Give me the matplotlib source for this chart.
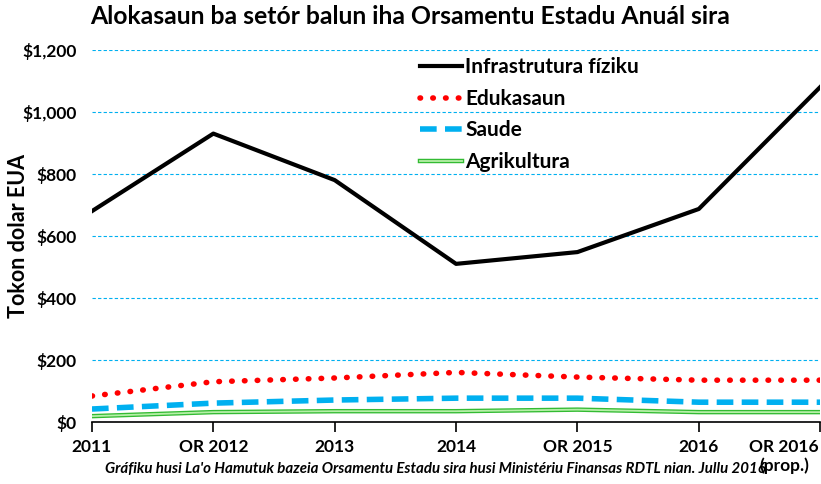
import matplotlib.pyplot as plt
import matplotlib.patheffects as pe
import matplotlib.transforms as mtransforms
import numpy as np

years = ['2011', 'OR 2012', '2013', '2014', 'OR 2015', '2016', 'OR 2016\n(prop.)']
infrastrutura = [680, 930, 780, 510, 548, 687, 1080]
edukasaun = [84, 130, 142, 160, 145, 135, 135]
saude = [42, 61, 71, 77, 77, 64, 64]
agrikultura = [19, 32, 35, 35, 40, 32, 32]

plt.rcParams['font.family'] = ['Lato', 'DejaVu Sans']
plt.rcParams['font.weight'] = 'bold'

fig = plt.figure(figsize=(8.21, 4.84), dpi=100)
ax = fig.add_axes([0.112, 0.128, 0.887, 0.769])
x = np.arange(len(years))

ax.plot(x, infrastrutura, color='black', lw=3, label='Infrastrutura fíziku')
ax.plot(x, edukasaun, color='#ff0000', lw=4, linestyle=(0, (0.1, 2.2)),
        dash_capstyle='round', label='Edukasaun')
ax.plot(x, saude, color='#00b0f0', lw=4, linestyle=(0, (3, 1.5)), label='Saude')
ax.plot(x, agrikultura, color='#b6efa8', lw=1.3, label='Agrikultura',
        path_effects=[pe.Stroke(linewidth=3.2, foreground='#33bb33'), pe.Normal()])

ax.set_xlim(0, len(years) - 1)
ax.set_ylim(0, 1200)
ax.set_yticks(range(0, 1201, 200))
ax.set_yticklabels(['$0', '$200', '$400', '$600', '$800', '$1,000', '$1,200'])
ax.set_xticks(x)
ax.set_xticklabels(years)
ax.grid(axis='y', color='#00b0f0', linestyle=(0, (3, 2)), lw=0.8)
ax.set_axisbelow(True)
for s in ['top', 'right', 'left']:
    ax.spines[s].set_visible(False)
ax.spines['bottom'].set_linewidth(1.2)
ax.tick_params(axis='y', length=0, labelsize=12.5, pad=11)
ax.tick_params(axis='x', direction='out', length=7, width=1.2, labelsize=12.5, pad=5)
ax.set_ylabel('Tokon dolar EUA', fontsize=15.5, fontweight='bold')
ax.yaxis.set_label_coords(-0.086, 0.5)

# last label sits against the right edge
last = ax.get_xticklabels()[-1]
last.set_transform(last.get_transform() + mtransforms.ScaledTranslation(-0.36, 0, fig.dpi_scale_trans))

ax.legend(loc='upper left', bbox_to_anchor=(0.425, 1.03), frameon=False, fontsize=15,
          handlelength=2.0, handletextpad=0.15, labelspacing=0.55)

fig.suptitle('Alokasaun ba setór balun iha Orsamentu Estadu Anuál sira',
             x=0.5, y=0.99, fontsize=17.8, fontweight='bold')
fig.text(0.53, 0.022, "Gráfiku husi La'o Hamutuk bazeia Orsamentu Estadu sira husi Ministériu Finansas RDTL nian. Jullu 2016",
         ha='center', fontsize=10.8, style='italic', fontweight='bold')

fig.savefig('out.png', dpi=100)
